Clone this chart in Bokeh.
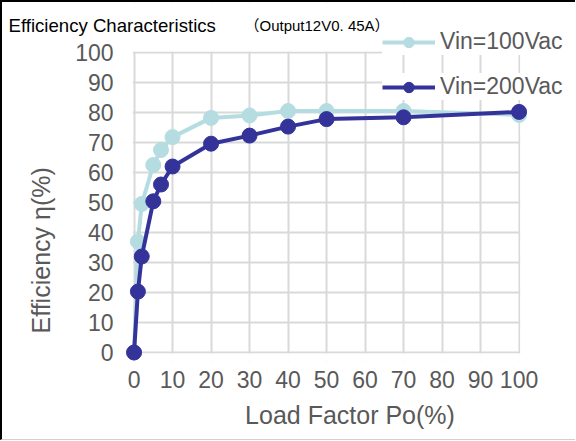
import math
from bokeh.plotting import figure
from bokeh.models import Range1d, FixedTicker, Label, Legend, BoxAnnotation
from bokeh.embed import file_html
from bokeh.resources import INLINE

# ---- data ----
load_factor = [0, 1, 2, 5, 7, 10, 20, 30, 40, 50, 70, 100]
eff_100vac = [0, 37, 49.5, 62.5, 67.5, 71.8, 78.2, 79, 80.5, 80.5, 80.5, 79.2]
eff_200vac = [0, 20.3, 32, 50.4, 56, 62, 69.6, 72.3, 75.3, 77.8, 78.4, 80.2]
series_labels = ["Vin=100Vac", "Vin=200Vac"]
x_ticks = [0, 10, 20, 30, 40, 50, 60, 70, 80, 90, 100]
y_ticks = [0, 10, 20, 30, 40, 50, 60, 70, 80, 90, 100]
title_text = "Efficiency Characteristics"
subtitle_text = "（Output12V0. 45A）"
x_title = "Load Factor Po(%)"
y_title = "Efficiency η(%)"

LIGHT = "#b5dde1"
DARK = "#333399"
GRID = "#d9d9d9"
TXT = "#595959"
FONT = "Liberation Sans"

# ---- main chart ----
p = figure(width=575, height=440, output_backend="svg", toolbar_location=None,
           x_range=Range1d(-3, 115.18), y_range=Range1d(-3, 116.667),
           min_border_left=120, min_border_right=0, min_border_top=0, min_border_bottom=81,
           background_fill_color="white", border_fill_color="white")
p.styles = {"border-top": "2px solid #000000", "border-left": "2px solid #000000",
            "border-bottom": "1px solid #d0d0d0"}
p.outline_line_color = None

for ax, ticks in ((p.xaxis[0], x_ticks), (p.yaxis[0], y_ticks)):
    ax.ticker = FixedTicker(ticks=ticks)
    ax.bounds = (0, 100)
    ax.axis_line_color = None
    ax.major_tick_line_color = None
    ax.minor_tick_line_color = None
    ax.major_tick_in = 0
    ax.major_tick_out = 0
    ax.minor_tick_in = 0
    ax.minor_tick_out = 0
    ax.major_label_text_font = FONT
    ax.major_label_text_font_size = "23px"
    ax.major_label_text_color = TXT

p.xaxis[0].major_label_standoff = 9
p.yaxis[0].major_label_standoff = 9
p.xaxis[0].axis_label = x_title
p.xaxis[0].axis_label_text_font = FONT
p.xaxis[0].axis_label_text_font_size = "25px"
p.xaxis[0].axis_label_text_font_style = "normal"
p.xaxis[0].axis_label_text_color = TXT
p.xaxis[0].axis_label_standoff = 10

for g, ticks in ((p.xgrid[0], x_ticks), (p.ygrid[0], y_ticks)):
    g.ticker = FixedTicker(ticks=ticks)
    g.grid_line_color = GRID
    g.grid_line_width = 2

# hide grid overhang beyond 0..100
for kw in (dict(right=-0.3), dict(left=100.3), dict(bottom=100.3), dict(top=-0.3)):
    p.add_layout(BoxAnnotation(fill_color="white", fill_alpha=1, line_color=None,
                               level="underlay", **kw))

l1 = p.line(load_factor, eff_100vac, line_color=LIGHT, line_width=4)
s1 = p.scatter(load_factor, eff_100vac, size=15, fill_color=LIGHT, line_color=LIGHT)
l2 = p.line(load_factor, eff_200vac, line_color=DARK, line_width=4)
s2 = p.scatter(load_factor, eff_200vac, size=15, fill_color=DARK, line_color=DARK)

legend = Legend(items=[(series_labels[0], [l1, s1]), (series_labels[1], [l2, s2])],
                location=(260, 261), orientation="vertical",
                glyph_width=53, glyph_height=26, label_height=26, label_standoff=5,
                spacing=18, padding=0, margin=0,
                label_text_font=FONT, label_text_font_size="23px", label_text_color=TXT,
                background_fill_alpha=0, border_line_color=None)
legend.item_background_policy = "every"
legend.item_background_fill_color = "white"
legend.item_background_fill_alpha = 1
p.add_layout(legend, "center")

# ---- transparent text overlay (titles + y axis title) ----
t = figure(width=576, height=441, output_backend="svg", toolbar_location=None,
           x_axis_type=None, y_axis_type=None, x_range=Range1d(0, 1), y_range=Range1d(0, 1),
           min_border_left=0, min_border_right=0, min_border_top=0, min_border_bottom=0,
           background_fill_alpha=0, border_fill_alpha=0)
t.styles = {"position": "absolute", "top": "0px", "left": "0px", "z-index": "10"}
t.outline_line_color = None
t.add_layout(Label(x=8, y=416, x_units="screen", y_units="screen", text=title_text,
                   text_font=FONT, text_font_size="18.6px", text_color="#000000",
                   text_baseline="alphabetic", text_align="left"))
t.add_layout(Label(x=244, y=416, x_units="screen", y_units="screen", text=subtitle_text,
                   text_font="Liberation Sans, Noto Sans CJK JP", text_font_size="15px",
                   text_color="#000000", text_baseline="alphabetic", text_align="left"))
t.add_layout(Label(x=40, y=108, x_units="screen", y_units="screen", text=y_title,
                   angle=math.pi / 2, text_font=FONT, text_font_size="25px", text_color=TXT,
                   text_baseline="alphabetic", text_align="left"))

open("out.html", "w").write(file_html([p, t], INLINE))
